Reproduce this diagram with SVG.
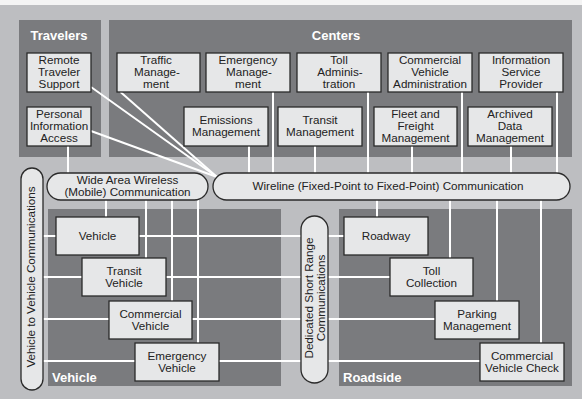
<svg xmlns="http://www.w3.org/2000/svg" width="582" height="399" viewBox="0 0 582 399">
<style>
.panel{fill:#7a7b7e}
.box{fill:#e6e7e8;stroke:#2a2a2a;stroke-width:1.3}
.pill{fill:#e6e7e8;stroke:#2a2a2a;stroke-width:1.3}
.t{font-family:"Liberation Sans",Arial,sans-serif;font-size:10.6px;fill:#222;text-anchor:middle}
.h{font-family:"Liberation Sans",Arial,sans-serif;font-size:13px;font-weight:bold;fill:#fff}
.c{stroke:#fff;stroke-width:2;fill:none}
</style>
<rect x="0" y="0" width="582" height="399" fill="#f4f4f4"/>
<rect x="0" y="5" width="582" height="394" fill="#bdbec1"/>

<g id="panels">
<rect class="panel" x="19" y="20" width="82" height="137"/>
<rect class="panel" x="109" y="20" width="463" height="137"/>
<rect class="panel" x="48" y="209" width="233" height="177"/>
<rect class="panel" x="339" y="209" width="233" height="177"/>
<text class="h" x="59" y="40" text-anchor="middle">Travelers</text>
<text class="h" x="336" y="40" text-anchor="middle">Centers</text>
<text class="h" x="52" y="382">Vehicle</text>
<text class="h" x="343" y="382">Roadside</text>
</g>

<g id="connectors">
<line class="c" x1="91" y1="87" x2="217" y2="177"/>
<line class="c" x1="91" y1="131" x2="217" y2="177"/>
<line class="c" x1="120.5" y1="92" x2="217" y2="177"/>
<line class="c" x1="68" y1="146" x2="68" y2="174"/>
<line class="c" x1="249" y1="146" x2="249" y2="174"/>
<line class="c" x1="273" y1="92" x2="273" y2="174"/>
<line class="c" x1="315" y1="146" x2="315" y2="174"/>
<line class="c" x1="368" y1="92" x2="368" y2="174"/>
<line class="c" x1="412" y1="146" x2="412" y2="174"/>
<line class="c" x1="462" y1="92" x2="462" y2="174"/>
<line class="c" x1="511" y1="146" x2="511" y2="174"/>
<line class="c" x1="557" y1="92" x2="557" y2="174"/>
<line class="c" x1="106" y1="199" x2="106" y2="217"/>
<line class="c" x1="146" y1="199" x2="146" y2="258"/>
<line class="c" x1="172" y1="199" x2="172" y2="301"/>
<line class="c" x1="198" y1="199" x2="198" y2="343"/>
<line class="c" x1="377" y1="199" x2="377" y2="217"/>
<line class="c" x1="450" y1="199" x2="450" y2="258"/>
<line class="c" x1="497" y1="199" x2="497" y2="301"/>
<line class="c" x1="541" y1="199" x2="541" y2="343"/>
<line class="c" x1="42" y1="236" x2="344" y2="236"/>
<line class="c" x1="42" y1="277" x2="390" y2="277"/>
<line class="c" x1="42" y1="319" x2="435" y2="319"/>
<line class="c" x1="42" y1="361" x2="480" y2="361"/>
</g>

<g id="remote-traveler-support"><rect class="box" x="27" y="53" width="64" height="39"/><text class="t" transform="translate(59,0) scale(1.1,1)"><tspan x="0" y="64.5">Remote</tspan><tspan x="0" y="76.3">Traveler</tspan><tspan x="0" y="88.1">Support</tspan></text></g>
<g id="personal-information-access"><rect class="box" x="27" y="107" width="64" height="39"/><text class="t" transform="translate(59,0) scale(1.1,1)"><tspan x="0" y="118.5">Personal</tspan><tspan x="0" y="130.3">Information</tspan><tspan x="0" y="142.1">Access</tspan></text></g>

<g id="traffic-management"><rect class="box" x="117" y="53" width="83" height="39"/><text class="t" transform="translate(156,0) scale(1.1,1)"><tspan x="0" y="64.5">Traffic</tspan><tspan x="0.9" y="76.3">Manage-</tspan><tspan x="0" y="88.1">ment</tspan></text></g>
<g id="emergency-management"><rect class="box" x="206" y="53" width="84" height="39"/><text class="t" transform="translate(248,0) scale(1.1,1)"><tspan x="0" y="64.5">Emergency</tspan><tspan x="0.9" y="76.3">Manage-</tspan><tspan x="0" y="88.1">ment</tspan></text></g>
<g id="toll-administration"><rect class="box" x="297" y="53" width="84" height="39"/><text class="t" transform="translate(339,0) scale(1.1,1)"><tspan x="0" y="64.5">Toll</tspan><tspan x="0.9" y="76.3">Adminis-</tspan><tspan x="0" y="88.1">tration</tspan></text></g>
<g id="commercial-vehicle-administration"><rect class="box" x="388" y="53" width="84" height="39"/><text class="t" transform="translate(430,0) scale(1.1,1)"><tspan x="0" y="64.5">Commercial</tspan><tspan x="0" y="76.3">Vehicle</tspan><tspan x="0" y="88.1">Administration</tspan></text></g>
<g id="information-service-provider"><rect class="box" x="479" y="53" width="84" height="39"/><text class="t" transform="translate(521,0) scale(1.1,1)"><tspan x="0" y="64.5">Information</tspan><tspan x="0" y="76.3">Service</tspan><tspan x="0" y="88.1">Provider</tspan></text></g>

<g id="emissions-management"><rect class="box" x="184" y="107" width="84" height="39"/><text class="t" transform="translate(226,0) scale(1.1,1)"><tspan x="0" y="124.4">Emissions</tspan><tspan x="0" y="136.2">Management</tspan></text></g>
<g id="transit-management"><rect class="box" x="278" y="107" width="84" height="39"/><text class="t" transform="translate(320,0) scale(1.1,1)"><tspan x="0" y="124.4">Transit</tspan><tspan x="0" y="136.2">Management</tspan></text></g>
<g id="fleet-and-freight-management"><rect class="box" x="374" y="107" width="83" height="39"/><text class="t" transform="translate(415.5,0) scale(1.1,1)"><tspan x="0" y="118.5">Fleet and</tspan><tspan x="0" y="130.3">Freight</tspan><tspan x="0" y="142.1">Management</tspan></text></g>
<g id="archived-data-management"><rect class="box" x="468" y="107" width="84" height="39"/><text class="t" transform="translate(510,0) scale(1.1,1)"><tspan x="0" y="118.5">Archived</tspan><tspan x="0" y="130.3">Data</tspan><tspan x="0" y="142.1">Management</tspan></text></g>

<g id="wide-area-wireless"><rect class="pill" x="47" y="173" width="161" height="27" rx="13.5"/><text class="t" transform="translate(127.5,0) scale(1.1,1)"><tspan x="0" y="184.4">Wide Area Wireless</tspan><tspan x="0" y="196.2">(Mobile) Communication</tspan></text></g>
<g id="wireline"><rect class="pill" x="213" y="173" width="357" height="27" rx="13.5"/><text class="t" transform="translate(388,0) scale(1.1,1)" x="0" y="190.3">Wireline (Fixed-Point to Fixed-Point) Communication</text></g>
<g id="vehicle-to-vehicle"><rect class="pill" x="21" y="168" width="22" height="222" rx="11"/><text class="t" transform="translate(35,277) rotate(-90) scale(1.1,1)">Vehicle to Vehicle Communications</text></g>
<g id="dedicated-short-range"><rect class="pill" x="301" y="216" width="27" height="167" rx="13.5"/><text class="t" transform="translate(313.4,298) rotate(-90) scale(1.1,1)">Dedicated Short Range</text><text class="t" transform="translate(325,298) rotate(-90) scale(1.1,1)">Communications</text></g>

<g id="vehicle"><rect class="box" x="56" y="217" width="83" height="38"/><text class="t" transform="translate(97.5,0) scale(1.1,1)" x="0" y="239.8">Vehicle</text></g>
<g id="transit-vehicle"><rect class="box" x="82" y="258" width="84" height="38"/><text class="t" transform="translate(124,0) scale(1.1,1)"><tspan x="0" y="274.9">Transit</tspan><tspan x="0" y="286.7">Vehicle</tspan></text></g>
<g id="commercial-vehicle"><rect class="box" x="109" y="301" width="83" height="38"/><text class="t" transform="translate(150.5,0) scale(1.1,1)"><tspan x="0" y="317.9">Commercial</tspan><tspan x="0" y="329.7">Vehicle</tspan></text></g>
<g id="emergency-vehicle"><rect class="box" x="135" y="343" width="84" height="38"/><text class="t" transform="translate(177,0) scale(1.1,1)"><tspan x="0" y="359.9">Emergency</tspan><tspan x="0" y="371.7">Vehicle</tspan></text></g>

<g id="roadway"><rect class="box" x="344" y="217" width="84" height="38"/><text class="t" transform="translate(386,0) scale(1.1,1)" x="0" y="239.8">Roadway</text></g>
<g id="toll-collection"><rect class="box" x="390" y="258" width="83" height="38"/><text class="t" transform="translate(431.5,0) scale(1.1,1)"><tspan x="0" y="274.9">Toll</tspan><tspan x="0" y="286.7">Collection</tspan></text></g>
<g id="parking-management"><rect class="box" x="435" y="301" width="84" height="38"/><text class="t" transform="translate(477,0) scale(1.1,1)"><tspan x="0" y="317.9">Parking</tspan><tspan x="0" y="329.7">Management</tspan></text></g>
<g id="commercial-vehicle-check"><rect class="box" x="480" y="343" width="84" height="38"/><text class="t" transform="translate(522,0) scale(1.1,1)"><tspan x="0" y="359.9">Commercial</tspan><tspan x="0" y="371.7">Vehicle Check</tspan></text></g>
</svg>
